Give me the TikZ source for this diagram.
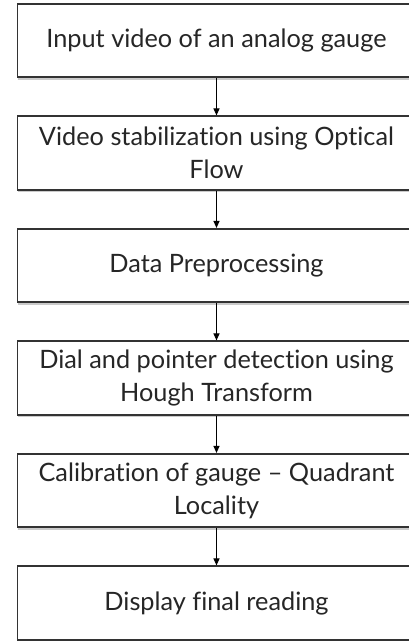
\documentclass[tikz,border=0pt]{standalone}
\usepackage{fontspec}
\setmainfont[Ligatures={NoCommon}]{Lato}
\usetikzlibrary{shadows,arrows.meta}
\begin{document}
\begin{tikzpicture}[x=1pt,y=-1pt,
  stepbox/.style={draw=black!80, line width=1.6pt, fill=white,
    minimum width=398pt, minimum height=73.5pt, inner sep=0pt,
    align=center, font=\fontsize{25.3}{33}\selectfont, text=black!85,
    drop shadow={shadow xshift=0pt, shadow yshift=-2.5pt, opacity=0.35, fill=black!60}},
  flow/.style={draw=black, line width=1pt, -{Triangle[length=7pt,width=6pt]}}]
  \useasboundingbox (0,0) rectangle (409,641);
  \node[stepbox] (s1) at (216.5,40.5) {Input video of an analog gauge};
  \node[stepbox] (s2) at (216.5,153) {Video stabilization using Optical\\Flow};
  \node[stepbox] (s3) at (216.5,265.5) {Data Preprocessing};
  \node[stepbox] (s4) at (216.5,378) {Dial and pointer detection using\\Hough Transform};
  \node[stepbox] (s5) at (216.5,490.5) {Calibration of gauge – Quadrant\\Locality};
  \node[stepbox] (s6) at (216.5,603) {Display final reading};
  \foreach \a/\b in {s1/s2,s2/s3,s3/s4,s4/s5,s5/s6}
    \draw[flow] (\a.south) -- (\b.north);
\end{tikzpicture}
\end{document}
